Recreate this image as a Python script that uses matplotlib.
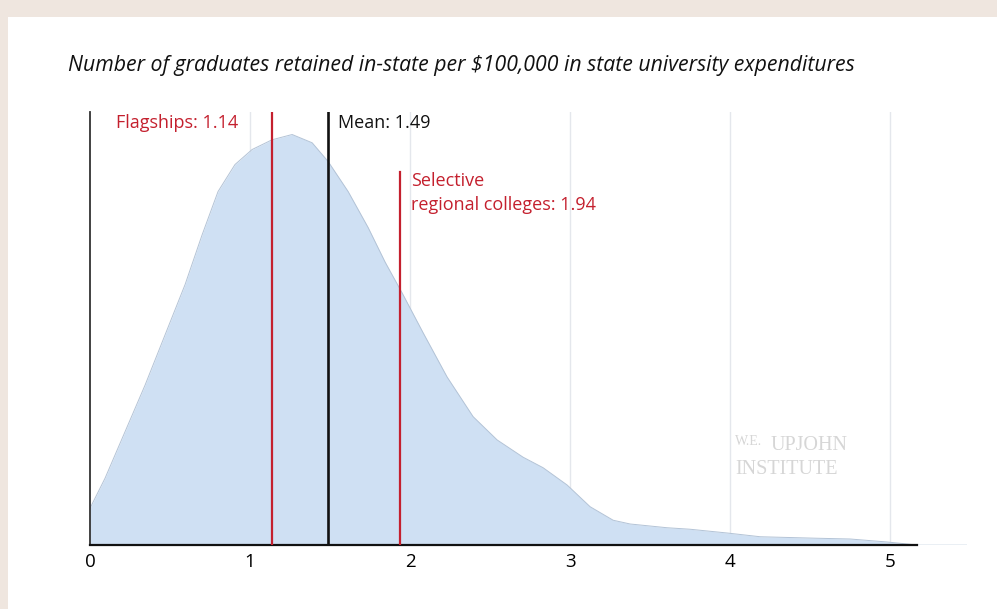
import matplotlib.pyplot as plt
from matplotlib.patches import Rectangle

# Density curve
x_vals = [0.000, 0.094, 0.219, 0.344, 0.469, 0.594, 0.700, 0.800, 0.906, 1.013,
          1.138, 1.263, 1.388, 1.488, 1.613, 1.738, 1.844, 1.950, 2.081, 2.231,
          2.394, 2.544, 2.706, 2.831, 2.981, 3.125, 3.269, 3.375, 3.606, 3.750,
          3.981, 4.188, 4.544, 4.750, 4.981, 5.169]
density = [0.049, 0.089, 0.151, 0.213, 0.280, 0.347, 0.413, 0.471, 0.507, 0.527,
           0.540, 0.547, 0.536, 0.511, 0.471, 0.423, 0.377, 0.336, 0.283, 0.224,
           0.171, 0.140, 0.117, 0.103, 0.080, 0.051, 0.033, 0.028, 0.023, 0.021,
           0.016, 0.011, 0.009, 0.008, 0.004, 0.000]

# Reference lines
flagships = 1.14
mean_val = 1.49
selective = 1.94

ticks = [0, 1, 2, 3, 4, 5]

red = "#c4202e"
fill_col = "#cfe0f3"
beige = "#efe6df"

fig = plt.figure(figsize=(9.97, 6.09), dpi=100, facecolor=beige)
bg = Rectangle((8 / 997, 0), 1, (609 - 17) / 609, transform=fig.transFigure,
               facecolor="white", edgecolor="none", zorder=-5)
fig.add_artist(bg)

ax = fig.add_axes([90 / 997, (609 - 545) / 609, 877 / 997, 433 / 609])
ax.set_facecolor("none")
ax.set_xlim(0, 5.48)
ax.set_ylim(0, 0.577)

# gridlines
for t in ticks[1:]:
    ax.axvline(t, color="#e4e7ec", lw=1, zorder=0)

ax.fill_between(x_vals, density, color=fill_col, zorder=1, lw=0)
ax.plot(x_vals, density, color="#b3c3d6", lw=0.7, zorder=2)
ax.plot([5.17, 5.48], [0, 0], color="#e6ecf2", lw=1.2, zorder=2)

ax.axvline(flagships, color=red, lw=1.6, zorder=3)
ax.axvline(mean_val, color="#111111", lw=1.9, zorder=3)
ax.plot([selective, selective], [0, 0.497], color=red, lw=1.6, zorder=3)

lab_font = "Open Sans"
ax.text(0.925, 0.563, "Flagships: " + str(flagships), color=red, ha="right",
        va="center", fontsize=13, family=lab_font)
ax.text(1.55, 0.563, "Mean: " + str(mean_val), color="#111111", ha="left",
        va="center", fontsize=13, family=lab_font)
ax.text(2.007, 0.497, "Selective\nregional colleges: " + str(selective), color=red,
        ha="left", va="top", fontsize=13, family=lab_font, linespacing=1.42)

# watermark
wm = "#d6d6d6"
ax.text(4.03, 0.133, "W.E.", color=wm, fontsize=10, family="Liberation Serif",
        ha="left", va="baseline")
ax.text(4.25, 0.126, "UPJOHN", color=wm, fontsize=14.5, family="Liberation Serif",
        ha="left", va="baseline")
ax.text(4.03, 0.094, "INSTITUTE", color=wm, fontsize=14.5, family="Liberation Serif",
        ha="left", va="baseline")

for s in ["top", "right"]:
    ax.spines[s].set_visible(False)
ax.spines["left"].set_color("#333333")
ax.spines["left"].set_linewidth(1.3)
ax.spines["bottom"].set_color("#111111")
ax.spines["bottom"].set_linewidth(1.6)
ax.spines["bottom"].set_bounds(0, 5.17)

ax.set_yticks([])
ax.set_xticks(ticks)
ax.set_xticklabels([str(t) for t in ticks], fontsize=13.5, family=lab_font)
ax.tick_params(axis="x", length=0, pad=6)

fig.text(68 / 997, 1 - 66 / 609,
         "Number of graduates retained in-state per $100,000 in state university expenditures",
         fontsize=15.3, style="italic", family="Open Sans", ha="left", va="center",
         color="#111111")

fig.savefig("out.png", dpi=100, facecolor=beige)
